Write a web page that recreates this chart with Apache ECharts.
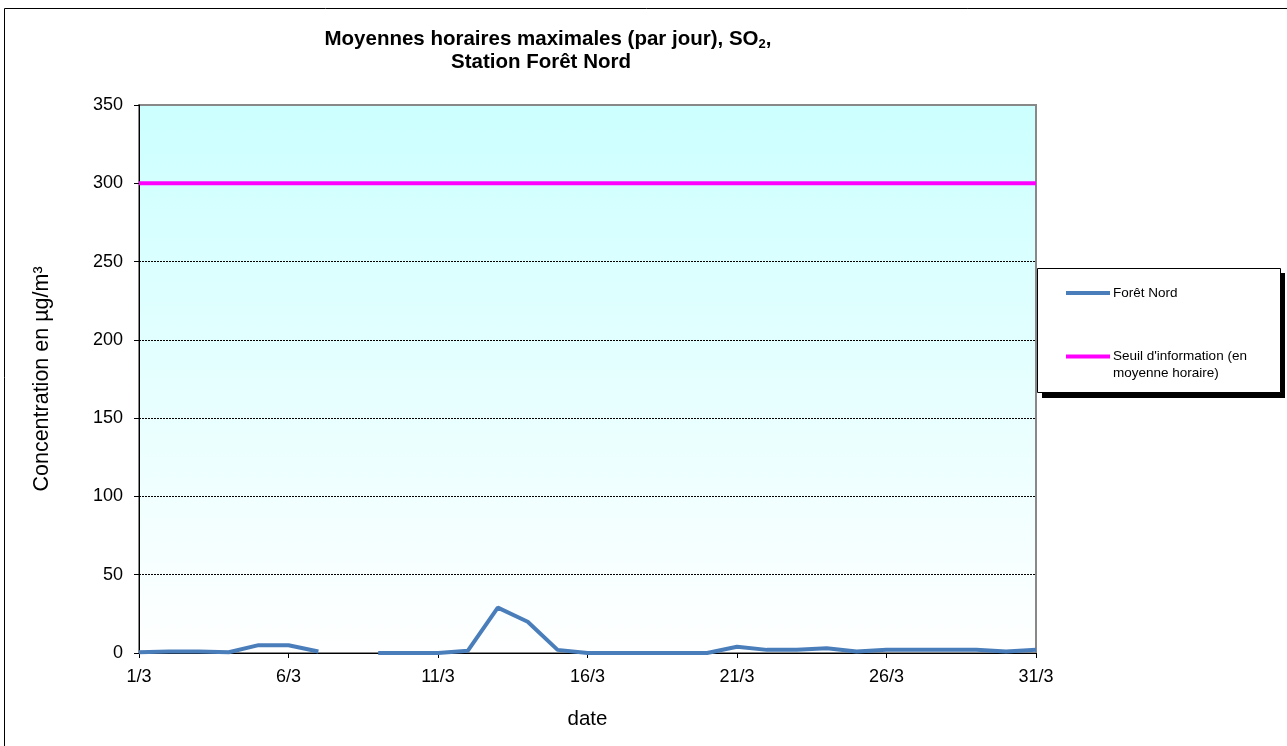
<!DOCTYPE html>
<html>
<head>
<meta charset="utf-8">
<script src="https://cdn.jsdelivr.net/npm/echarts@6/dist/echarts.min.js"></script>
<style>
html,body{margin:0;padding:0;background:#fff;}
#chart{width:1287px;height:746px;}
</style>
</head>
<body>
<div id="chart"></div>
<script>
const categories = ['1/3','2/3','3/3','4/3','5/3','6/3','7/3','8/3','9/3','10/3','11/3','12/3','13/3','14/3','15/3','16/3','17/3','18/3','19/3','20/3','21/3','22/3','23/3','24/3','25/3','26/3','27/3','28/3','29/3','30/3','31/3'];
const foretNord = [0.5,1,1,0.5,5,5,1,null,0,0,0,1.5,29,20,2,0,0,0,0,0,4,2,2,3,1,2,2,2,2,1,2];
const seuil = [300,300,300,300,300,300,300,300,300,300,300,300,300,300,300,300,300,300,300,300,300,300,300,300,300,300,300,300,300,300,300];
const yTicks = [0,50,100,150,200,250,300,350];
const seriesNames = ['Forêt Nord', "Seuil d'information (en moyenne horaire)"];

const font = 'Liberation Sans, Arial, sans-serif';
const chart = echarts.init(document.getElementById('chart'), null, {renderer:'canvas'});
chart.setOption({
  animation:false,
  backgroundColor:'#fff',
  textStyle:{fontFamily:font},
  title:{
    text:'{b|Moyennes horaires maximales (par jour), SO}{s|2}{b|,}\n{c|Station Forêt Nord}',
    left:548, top:28, textAlign:'center', padding:0,
    textStyle:{
      rich:{
        b:{fontSize:20.5,fontWeight:'bold',color:'#000',fontFamily:font,lineHeight:23},
        c:{fontSize:20.5,fontWeight:'bold',color:'#000',fontFamily:font,lineHeight:23,padding:[0,14,0,0]},
        s:{fontSize:13,fontWeight:'bold',color:'#000',fontFamily:font,verticalAlign:'bottom',lineHeight:23,padding:[10,0,0,0]}
      }
    }
  },
  graphic:[
    {type:'rect',shape:{x:4.5,y:8.5,width:1300,height:760},style:{fill:'none',stroke:'#000',lineWidth:1},z:-10},
    {type:'rect',shape:{x:1042,y:273,width:243,height:125},style:{fill:'#000'},z:10},
    {type:'rect',shape:{x:1037.5,y:268.5,width:243,height:124},style:{fill:'#fff',stroke:'#000',lineWidth:1},z:11}
  ],
  legend:[
    {
      data:[seriesNames[0]], left:1066, top:286, orient:'vertical', padding:0,
      itemWidth:44, itemHeight:16, itemGap:8, z:20,
      icon:'path://M0,0 L44,0 L44,4 L0,4 Z',
      textStyle:{fontSize:13.5,color:'#000',fontFamily:font,padding:[0,0,0,-2]}
    },
    {
      data:[seriesNames[1]], left:1066, top:331, orient:'vertical', padding:0,
      itemWidth:44, itemHeight:16, itemGap:8, z:20,
      icon:'path://M0,0 L44,0 L44,4 L0,4 Z',
      formatter:function(){return "\nSeuil d'information (en\nmoyenne horaire)";},
      textStyle:{fontSize:13.5,color:'#000',fontFamily:font,lineHeight:17,padding:[0,0,0,-2]}
    }
  ],
  grid:{left:139,top:105,width:897,height:548,show:true,
    backgroundColor:{type:'linear',x:0,y:0,x2:0,y2:1,colorStops:[{offset:0,color:'#ccffff'},{offset:1,color:'#ffffff'}]},
    borderColor:'#888',borderWidth:2},
  xAxis:{
    type:'category', data:categories, boundaryGap:false,
    name:'date', nameLocation:'middle', nameGap:56,
    nameTextStyle:{fontSize:20.5,color:'#000',fontFamily:font},
    axisLine:{lineStyle:{color:'#000',width:1}},
    axisTick:{show:true,interval:4,length:5,inside:false,lineStyle:{color:'#000'}},
    axisLabel:{interval:4,fontSize:18,color:'#000',margin:15,fontFamily:font},
    splitLine:{show:false}
  },
  yAxis:{
    type:'value', min:0, max:350, interval:50,
    name:'Concentration en µg/m³', nameLocation:'middle', nameGap:86,
    nameTextStyle:{fontSize:21.5,color:'#000',fontFamily:font},
    axisLine:{show:true,lineStyle:{color:'#000',width:1}},
    axisTick:{show:true,length:5,lineStyle:{color:'#000'}},
    axisLabel:{fontSize:18,color:'#000',margin:16,fontFamily:font,
      formatter:function(v){return yTicks.indexOf(v)>=0?String(v):'';}},
    splitLine:{show:true,lineStyle:{color:['#000','#000','#000','#000','#000','#000','#000','#888'],width:1,type:[2,1]}}
  },
  series:[
    {name:seriesNames[0],type:'line',data:foretNord,symbol:'none',connectNulls:false,
     itemStyle:{color:'#4a7ebb'},lineStyle:{color:'#4a7ebb',width:4},z:5},
    {name:seriesNames[1],type:'line',data:seuil,symbol:'none',
     itemStyle:{color:'#ff00ff'},lineStyle:{color:'#ff00ff',width:4},z:4}
  ]
});
</script>
</body>
</html>
